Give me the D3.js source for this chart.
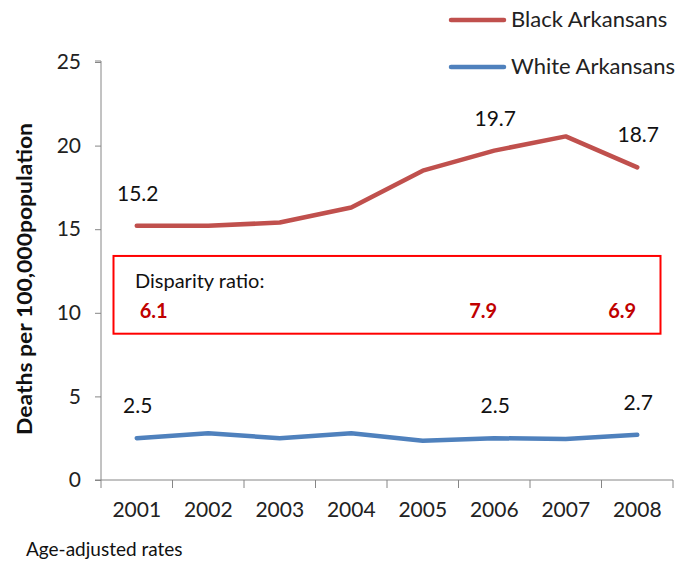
<!DOCTYPE html>
<html>
<head>
<meta charset="utf-8">
<script src="https://cdn.jsdelivr.net/npm/d3@7"></script>
<style>
  html, body { margin: 0; padding: 0; background: #fff; }
  svg { display: block; font-family: Lato, "Open Sans", sans-serif; }
</style>
</head>
<body>
<svg id="chart" width="693" height="565"></svg>
<script>
// ---- data ----
const years = ["2001", "2002", "2003", "2004", "2005", "2006", "2007", "2008"];
const blackRates = [15.2, 15.2, 15.4, 16.3, 18.5, 19.7, 20.55, 18.7];
const whiteRates = [2.5, 2.8, 2.5, 2.8, 2.35, 2.5, 2.45, 2.7];
const yTicks = [0, 5, 10, 15, 20, 25];
const labeledYears = ["2001", "2006", "2008"];
const blackLabels = ["15.2", "19.7", "18.7"];
const whiteLabels = ["2.5", "2.5", "2.7"];
const disparityRatios = ["6.1", "7.9", "6.9"];
const seriesNames = ["Black Arkansans", "White Arkansans"];
const seriesColors = ["#C0504D", "#4F81BD"];

// ---- layout ----
const svg = d3.select("#chart");
const plot = { left: 101, right: 673, top: 62, bottom: 480 };
const x = d3.scaleBand().domain(years).range([plot.left, plot.right]);
const y = d3.scaleLinear().domain([0, 25]).range([plot.bottom, plot.top]);
const cx = d => x(d) + x.bandwidth() / 2;
const axisColor = "#868686";
const fontSize = 21;

// y axis
const yAxis = svg.append("g").attr("transform", `translate(${plot.left},0)`)
  .call(d3.axisLeft(y).tickValues(yTicks).tickSize(6).tickPadding(14).tickFormat(d3.format("d")));
yAxis.select(".domain").attr("stroke", axisColor).attr("d", `M-6,${plot.bottom}H0V${plot.top - 1}H-6`);
yAxis.selectAll(".tick line").attr("stroke", axisColor);
yAxis.selectAll(".tick text").attr("font-size", fontSize).attr("fill", "#222").attr("font-family", "Lato");

// x axis
const xAxis = svg.append("g").attr("transform", `translate(0,${plot.bottom})`)
  .call(d3.axisBottom(x).tickSize(0).tickPadding(22));
xAxis.select(".domain").attr("stroke", axisColor).attr("d", `M${plot.left},0H${plot.right}`);
xAxis.selectAll(".tick text").attr("font-size", fontSize).attr("fill", "#222").attr("font-family", "Lato");
// boundary ticks between categories
const boundaries = years.map(d => x(d)).concat([plot.right]);
svg.append("g").selectAll("line").data(boundaries).join("line")
  .attr("x1", d => d).attr("x2", d => d)
  .attr("y1", plot.bottom).attr("y2", plot.bottom + 8)
  .attr("stroke", axisColor);

// y axis title
svg.append("text")
  .attr("transform", `translate(32,279) rotate(-90)`)
  .attr("text-anchor", "middle")
  .attr("font-size", 20).attr("font-weight", "bold").attr("fill", "#111")
  .attr("textLength", 312).attr("lengthAdjust", "spacingAndGlyphs")
  .text("Deaths per 100,000population");

// lines
const line = d3.line().x((d, i) => cx(years[i])).y(d => y(d));
[blackRates, whiteRates].forEach((vals, k) => {
  svg.append("path").datum(vals)
    .attr("d", line)
    .attr("fill", "none")
    .attr("stroke", seriesColors[k])
    .attr("stroke-width", 4.5)
    .attr("stroke-linejoin", "round")
    .attr("stroke-linecap", "round");
});

// value labels
function valueLabels(vals, labels) {
  labeledYears.forEach((yr, i) => {
    const idx = years.indexOf(yr);
    svg.append("text")
      .attr("x", cx(yr) + 1)
      .attr("y", y(vals[idx]) - 25)
      .attr("text-anchor", "middle")
      .attr("font-size", fontSize).attr("fill", "#111")
      .text(labels[i]);
  });
}
valueLabels(blackRates, blackLabels);
valueLabels(whiteRates, whiteLabels);

// disparity box
const boxTop = y(13.4), boxBottom = y(8.75);
svg.append("rect")
  .attr("x", plot.left + 12.5).attr("y", boxTop)
  .attr("width", 547).attr("height", boxBottom - boxTop)
  .attr("fill", "none").attr("stroke", "#FF0000").attr("stroke-width", 2);
svg.append("text")
  .attr("x", plot.left + 34).attr("y", boxTop + 32)
  .attr("font-size", 20).attr("fill", "#111")
  .text("Disparity ratio:");
const ratioOffsets = [17, -11, -15];
labeledYears.forEach((yr, i) => {
  svg.append("text")
    .attr("x", cx(yr) + ratioOffsets[i]).attr("y", boxTop + 62)
    .attr("text-anchor", "middle")
    .attr("font-size", 20).attr("font-weight", "bold").attr("fill", "#C00000")
    .text(disparityRatios[i]);
});

// legend
const legend = svg.append("g");
seriesNames.forEach((name, i) => {
  const ly = 20 + i * 47;
  legend.append("line")
    .attr("x1", 451).attr("x2", 504).attr("y1", ly).attr("y2", ly)
    .attr("stroke", seriesColors[i]).attr("stroke-width", 4.5).attr("stroke-linecap", "round");
  legend.append("text")
    .attr("x", 511).attr("y", ly + 7)
    .attr("font-size", 22).attr("fill", "#222")
    .text(name);
});

// footnote
svg.append("text")
  .attr("x", 26).attr("y", 556)
  .attr("font-size", 19).attr("fill", "#111")
  .text("Age-adjusted rates");
</script>
</body>
</html>
